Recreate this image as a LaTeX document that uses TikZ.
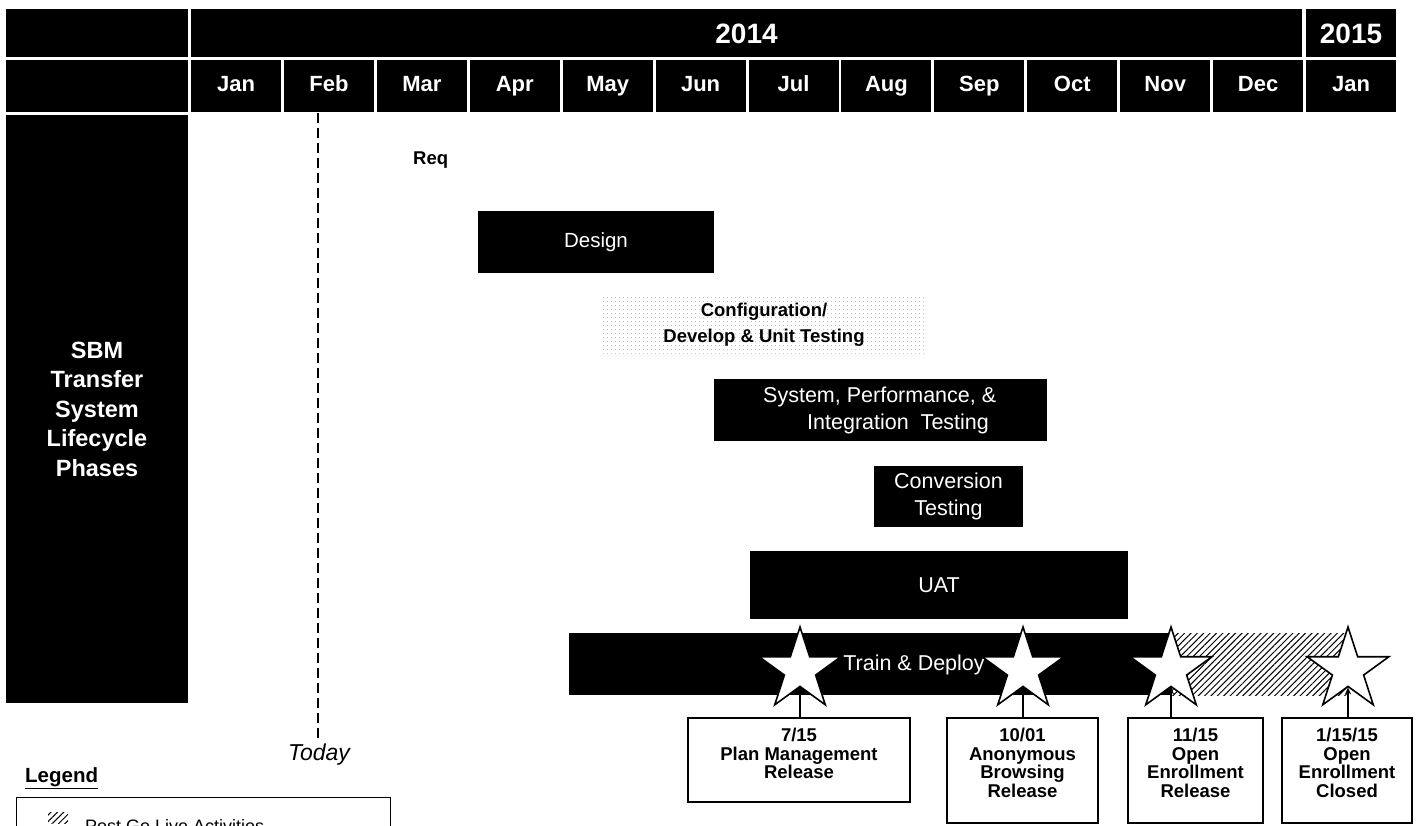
\documentclass[tikz,border=0pt]{standalone}
\usepackage{fontspec}
\setmainfont{Liberation Sans}
\usetikzlibrary{shapes.geometric,patterns,patterns.meta,arrows.meta}

\begin{document}
\begin{tikzpicture}[x=1pt,y=-1pt,
  hdr/.style={fill=black, draw=none, text=white, inner sep=0pt,
    font=\fontsize{22}{24}\selectfont\bfseries, text height=16pt, text depth=4.5pt},
  yearhdr/.style={hdr, font=\fontsize{28}{30}\selectfont\bfseries, text height=20pt, text depth=0pt},
  bar/.style={fill=black, draw=none, text=white, inner sep=0pt, align=center,
    font=\fontsize{21.5}{27}\selectfont},
  devbar/.style={pattern={Dots[distance=4pt,radius=0.5pt]}, pattern color=gray!80,
    draw=none, text=black, inner sep=0pt, align=center,
    font=\fontsize{18.5}{26}\selectfont\bfseries},
  hatchbar/.style={pattern={Lines[angle=45,distance=4.5pt,line width=1pt]}, pattern color=black,
    draw=none, inner sep=0pt},
  milestone/.style={star, star points=5, star point ratio=2.618, minimum size=86pt,
    inner sep=0pt, draw=black, line width=1.6pt, fill=white},
  relbox/.style={draw=black, line width=1.5pt, fill=white, inner sep=0pt},
  reltext/.style={font=\fontsize{18.5}{18.5}\selectfont\bfseries, align=center,
    inner sep=0pt, anchor=north},
  link/.style={line width=1.6pt},
  arrowlink/.style={link, -{Stealth[length=7pt,width=6pt]}},
  todayline/.style={line width=1.6pt, dash pattern=on 10pt off 5pt},
]
\useasboundingbox (0,0) rectangle (1424,825);

% ---- header: years and months
\node[hdr, minimum width=182pt, minimum height=48pt] (corner1) at (97,33) {};
\node[hdr, minimum width=182pt, minimum height=52pt] (corner2) at (97,86) {};
\node[yearhdr, minimum width=1111pt, minimum height=48pt] (y2014) at (746.5,33) {2014};
\node[yearhdr, minimum width=90pt, minimum height=48pt] (y2015) at (1351,33) {2015};
\foreach \m [count=\i from 0] in {Jan,Feb,Mar,Apr,May,Jun,Jul,Aug,Sep,Oct,Nov,Dec,Jan}
  \node[hdr, minimum width=90pt, minimum height=52pt] (mon\i) at ({236+92.92*\i},86) {\m};

% ---- row title
\node[hdr, minimum width=182pt, minimum height=588pt, align=center, text height=, text depth=,
  font=\fontsize{23.5}{29.5}\selectfont\bfseries] (phases) at (97,409)
  {SBM\\Transfer\\System\\Lifecycle\\Phases};

% ---- today marker
\coordinate (todaytop) at (318,113);
\node[font=\fontsize{23}{26}\selectfont\itshape, inner sep=0pt] (today) at (319,755) {Today};
\draw[todayline, shorten >=6pt] (todaytop) -- (todaytop |- today.north);

% ---- phases
\node[font=\fontsize{18.5}{20}\selectfont\bfseries, anchor=west, inner sep=0pt] (req) at (413,160) {Req};
\node[bar, font=\fontsize{20.5}{24}\selectfont, minimum width=236pt, minimum height=62pt] (design) at (596,242) {Design};
\node[devbar, minimum width=322pt, minimum height=60pt] (dev) at (764,325)
  {Configuration/\\Develop \& Unit Testing};
\node[bar, minimum width=333pt, minimum height=62pt] (sit) at (880.5,410) {};
\node[text=white, font=\fontsize{21.5}{27}\selectfont, align=left, anchor=west, inner sep=0pt] (sitlbl)
  at (763,410) {System, Performance, \&\\\hspace*{44pt}Integration\ \ Testing};
\node[bar, minimum width=149pt, minimum height=61pt] (conv) at (948.5,496.5) {Conversion\\Testing};
\node[bar, minimum width=378pt, minimum height=68pt] (uat) at (939,585) {UAT};
\node[bar, minimum width=603pt, minimum height=62pt] (train) at (870.5,664) {};
\node[hatchbar, minimum width=175pt, minimum height=62pt] (post) at (1259.5,664) {};
\node[text=white, font=\fontsize{21.5}{24}\selectfont, inner sep=0pt] (trainlbl) at (914,665) {Train \& Deploy};

% ---- milestones
\node[milestone] (s1) at (800,670) {};
\node[milestone] (s2) at (1023,670) {};
\node[milestone] (s3) at (1171,670) {};
\node[milestone] (s4) at (1348,670) {};

\node[relbox, minimum width=222pt, minimum height=84pt, anchor=north] (m1) at (799,717) {};
\node[relbox, minimum width=151pt, minimum height=105pt, anchor=north] (m2) at (1022.5,717) {};
\node[relbox, minimum width=135pt, minimum height=105pt, anchor=north] (m3) at (1195.5,717) {};
\node[relbox, minimum width=130pt, minimum height=105pt, anchor=north] (m4) at (1347,717) {};

\node[reltext] (m1t) at (799,728) {7/15\\Plan Management\\Release};
\node[reltext] (m2t) at (1022.5,728) {10/01\\Anonymous\\Browsing\\Release};
\node[reltext] (m3t) at (1195.5,728) {11/15\\Open\\Enrollment\\Release};
\node[reltext] (m4t) at (1347,728) {1/15/15\\Open\\Enrollment\\Closed};

\draw[link] (m1.north -| s1.south) -- (s1.south);
\draw[arrowlink] (m2.north -| s2.south) -- (s2.south);
\draw[arrowlink] (m3.north -| s3.south) -- (s3.south);
\draw[arrowlink] (m4.north -| s4.south) -- (s4.south);

% ---- legend
\node[font=\fontsize{20.5}{22}\selectfont\bfseries, anchor=west, inner sep=0pt] (legend) at (25,778) {\underline{Legend}};
\node[draw=black, line width=1.2pt, minimum width=374pt, minimum height=60pt, anchor=north west, inner sep=0pt] (legbox) at (16,797) {};
\node[hatchbar, minimum width=20pt, minimum height=11pt] (legicon) at (58,818) {};
\node[anchor=base west, font=\fontsize{18}{22}\selectfont, inner sep=0pt] (legtext) at (85,832) {Post Go Live Activities};
\end{tikzpicture}
\end{document}
